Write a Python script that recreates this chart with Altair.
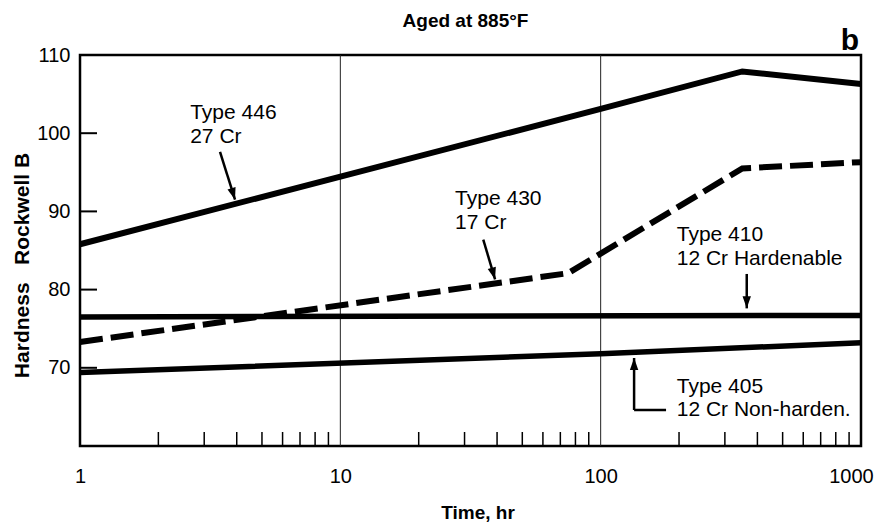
import altair as alt
import pandas as pd

# ---- data ----
time_446 = [1, 100, 350, 1000]
hard_446 = [85.8, 103.1, 107.9, 106.3]

time_430 = [1, 75, 350, 1000]
hard_430 = [73.3, 82.1, 95.5, 96.3]

time_410 = [1, 1000]
hard_410 = [76.5, 76.7]

time_405 = [1, 100, 1000]
hard_405 = [69.4, 71.8, 73.2]

x_tick_labels = [1, 10, 100, 1000]
y_tick_labels = [70, 80, 90, 100, 110]
y_inner_ticks = [70, 80, 90, 100]
x_gridlines = [10, 100]
x_minor_ticks = [2, 3, 4, 5, 6, 7, 8, 9,
                 20, 30, 40, 50, 60, 70, 80, 90,
                 200, 300, 400, 500, 600, 700, 800, 900]

# annotation text lines (time, hardness at baseline)
ann_text = ["Type 446", "27 Cr", "Type 430", "17 Cr",
            "Type 410", "12 Cr Hardenable", "Type 405", "12 Cr Non-harden."]
ann_t = [2.65, 2.65, 27.6, 27.6, 196, 196, 196, 196]
ann_v = [101.8, 98.8, 90.8, 87.75, 86.2, 83.15, 66.75, 63.85]

# arrow shafts
arr_t1 = [3.45, 35.4, 364, 134.4, 134.4]
arr_v1 = [97.6, 86.4, 82.0, 64.6, 64.6]
arr_t2 = [3.94, 39.3, 364, 134.4, 178.3]
arr_v2 = [91.5, 81.3, 77.6, 71.25, 64.6]

# arrow heads (tip positions and direction)
head_t = [3.94, 39.3, 364, 134.4]
head_v = [91.5, 81.3, 77.6, 71.25]
head_angle = [163, 164, 180, 0]

W, H = 781, 391
FONT = "Liberation Sans"

xscale = alt.Scale(type="log", domain=[1, 1000], nice=False)
yscale = alt.Scale(domain=[60, 110], nice=False, zero=False)

xaxis = alt.Axis(values=x_tick_labels, format="d", grid=False, domain=False,
                 ticks=False, tickSize=0, labelPadding=20, labelFontSize=20,
                 labelFont=FONT, labelColor="black", labelFlush=False,
                 labelOffset={"condition": {"test": "datum.value == 1000", "value": -10},
                              "value": 0},
                 title="Time, hr", titleFontSize=19, titleFont=FONT,
                 titleFontWeight="bold", titleColor="black",
                 titleBaseline="alphabetic", titleY=72, titleX=W / 2 + 7,
                 titleAlign="center")
yaxis = alt.Axis(values=y_tick_labels, grid=False, domain=False, ticks=False,
                 tickSize=0, labelPadding=10, labelFontSize=20, labelFont=FONT,
                 labelColor="black",
                 title="Hardness\u00a0\u00a0\u00a0Rockwell B", titleFontSize=21,
                 titleFont=FONT, titleFontWeight="bold", titleColor="black",
                 titleAngle=270, titleBaseline="alphabetic", titleX=-52,
                 titleY=210, titleAlign="center")

grid_df = pd.DataFrame({"t": x_gridlines})
grid = alt.Chart(grid_df).mark_rule(color="#222", strokeWidth=1).encode(
    x=alt.X("t:Q", scale=xscale, axis=xaxis),
    y=alt.value(0), y2=alt.value(H))

minor_df = pd.DataFrame({"t": x_minor_ticks})
minor = alt.Chart(minor_df).mark_rule(color="black", strokeWidth=1.5).encode(
    x=alt.X("t:Q", scale=xscale),
    y=alt.value(H), y2=alt.value(H - 14))

yt_df = pd.DataFrame({"v": y_inner_ticks})
yticks = alt.Chart(yt_df).mark_rule(color="black", strokeWidth=2).encode(
    y=alt.Y("v:Q", scale=yscale, axis=yaxis),
    x=alt.value(0), x2=alt.value(17))

def series(times, vals, width, dash=None):
    df = pd.DataFrame({"t": times, "v": vals})
    kw = dict(color="black", strokeWidth=width, strokeCap="butt", strokeJoin="miter")
    if dash:
        kw["strokeDash"] = dash
    return alt.Chart(df).mark_line(**kw).encode(
        x=alt.X("t:Q", scale=xscale), y=alt.Y("v:Q", scale=yscale))

l446 = series(time_446, hard_446, 6)
l430 = series(time_430, hard_430, 6, [23, 8])
l410 = series(time_410, hard_410, 5.5)
l405 = series(time_405, hard_405, 5.5)

ann_df = pd.DataFrame({"t": ann_t, "v": ann_v, "label": ann_text})
ann = alt.Chart(ann_df).mark_text(align="left", baseline="alphabetic",
                                   fontSize=21, font=FONT, color="black").encode(
    x=alt.X("t:Q", scale=xscale), y=alt.Y("v:Q", scale=yscale), text="label:N")

arr_df = pd.DataFrame({"t1": arr_t1, "v1": arr_v1, "t2": arr_t2, "v2": arr_v2})
shafts = alt.Chart(arr_df).mark_rule(color="black", strokeWidth=2.5).encode(
    x=alt.X("t1:Q", scale=xscale), y=alt.Y("v1:Q", scale=yscale),
    x2="t2:Q", y2="v2:Q")

head_df = pd.DataFrame({"t": head_t, "v": head_v, "a": head_angle})
heads = alt.Chart(head_df).mark_point(
    shape="M0,0L-0.35,1L0.35,1Z", filled=True, color="black", size=576,
    opacity=1, strokeWidth=0).encode(
    x=alt.X("t:Q", scale=xscale), y=alt.Y("v:Q", scale=yscale),
    angle=alt.Angle("a:Q", scale=None))

letter = alt.Chart(pd.DataFrame({"s": ["b"]})).mark_text(
    fontSize=30, fontWeight="bold", font=FONT, color="black",
    align="center", baseline="alphabetic").encode(
    text="s:N", x=alt.value(W - 11), y=alt.value(-5))

title = alt.Chart(pd.DataFrame({"s": ["Aged at 885°F"]})).mark_text(
    fontSize=19, fontWeight="bold", font=FONT, color="black",
    align="center", baseline="alphabetic").encode(
    text="s:N", x=alt.value(W / 2 - 5), y=alt.value(-28))

chart = alt.layer(grid, minor, yticks, l410, l405, l446, l430,
                  shafts, heads, ann, letter, title).properties(
    width=W, height=H,
    autosize=alt.AutoSizeParams(type="none"),
    padding={"left": 72, "top": 47, "right": 13, "bottom": 77},
).configure_view(stroke="black", strokeWidth=2.5)

chart.save("out.html", embed_options={"renderer": "svg", "actions": False})
